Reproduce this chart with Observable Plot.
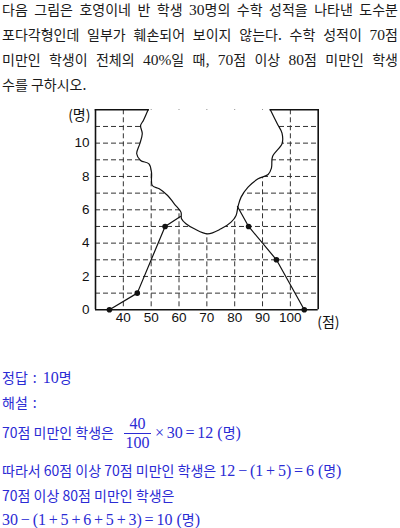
<!DOCTYPE html>
<html><head><meta charset="utf-8">
<script src="https://cdn.jsdelivr.net/npm/d3@7"></script>
<script src="https://cdn.jsdelivr.net/npm/@observablehq/plot@0.6"></script>
<style>
body{margin:0;background:#fff;width:400px;height:528px;position:relative;overflow:hidden;font-family:"Noto Sans CJK KR",sans-serif;}
.q{position:absolute;left:2px;width:396px;font-size:14px;color:#1a1a1a;height:24px;line-height:24px;white-space:nowrap}
.j{text-align:justify;text-align-last:justify;}
.n{font-family:"Liberation Serif",serif;font-size:15.5px}
.a{position:absolute;left:2px;color:#2b2bd4;font-size:14px;height:20px;line-height:20px;white-space:nowrap}
.m{font-family:"Liberation Serif",serif;font-size:16px}
.op{margin:0 2.8px}
.c{margin:0 6px 0 5px}
.frac{display:inline-block;vertical-align:middle;text-align:center;line-height:18px;margin:0 1px 0 7px;position:relative;top:-1px}
.frac span{display:block;padding:0 1.5px}
.frac .num{border-bottom:1px solid #2b2bd4}
#chart{position:absolute;left:0;top:100px;z-index:2}
</style></head>
<body>
<div class="q j" style="top:-3px">다음 그림은 호영이네 반 학생 <span class="n">30</span>명의 수학 성적을 나타낸 도수분</div>
<div class="q j" style="top:22px">포다각형인데 일부가 훼손되어 보이지 않는다. 수학 성적이 <span class="n">70</span>점</div>
<div class="q j" style="top:47px">미만인 학생이 전체의 <span class="n">40%</span>일 때, <span class="n">70</span>점 이상 <span class="n">80</span>점 미만인 학생</div>
<div class="q" style="top:72px">수를 구하시오.</div>
<div id="chart"></div>
<div class="a" style="top:367px">정답<span class="c">:</span><span class="m">10</span>명</div>
<div class="a" style="top:392px">해설<span class="c">:</span></div>
<div class="a" style="top:416px;height:auto">70점 미만인 학생은 <span class="frac m"><span class="num">40</span><span>100</span></span><span class="m"><span class="op">×</span>30<span class="op">=</span>12 (</span>명<span class="m">)</span></div>
<div class="a" style="top:460px">따라서 60점 이상 70점 미만인 학생은 <span class="m">12<span class="op">−</span>(1<span class="op">+</span>5)<span class="op">=</span>6 (</span>명<span class="m">)</span></div>
<div class="a" style="top:485px">70점 이상 80점 미만인 학생은</div>
<div class="a" style="top:509px"><span class="m">30<span class="op">−</span>(1<span class="op">+</span>5<span class="op">+</span>6<span class="op">+</span>5<span class="op">+</span>3)<span class="op">=</span>10 (</span>명<span class="m">)</span></div>
<script>
// class midpoints and frequencies (visible points)
const classMids = [35, 45, 55, 85, 95, 105];
const freqs = [0, 1, 5, 5, 3, 0];
// visible polygon segments (ending at the torn edge)
const leftLineX = [35, 45, 55, 60.5];
const leftLineY = [0, 1, 5, 5.6];
const rightLineX = [81, 85, 95, 105];
const rightLineY = [6.2, 5, 3, 0];
// torn edge outline
const tearX = [48.9, 47.2, 46.2, 46.8, 45.9, 44.8, 46.2, 49.2, 50.1, 50.4, 52.9, 55.9, 58.3, 60.7, 60.9, 62.5, 65.5, 70.3, 75.1, 78.7, 80.5, 81.2, 82.3, 84.8, 88.4, 92.0, 93.2, 93.6, 97.0, 97.0, 95.3, 92.8];
const tearY = [12, 11.36, 11.06, 10.56, 9.96, 9.36, 8.96, 8.76, 8.26, 7.46, 7.26, 6.86, 6.36, 5.86, 5.46, 5.16, 4.86, 4.56, 4.86, 5.26, 5.66, 6.2, 6.76, 7.36, 7.86, 8.12, 8.5, 9.2, 9.96, 10.6, 11.16, 12];
// axes
const xDomain = [30, 110];
const yDomain = [0, 12];
const xTicks = [40, 50, 60, 70, 80, 90, 100];
const yTicks = [0, 2, 4, 6, 8, 10];
const gridY = [1, 2, 3, 4, 5, 6, 7, 8, 9, 10, 11];
const xUnit = "(점)";
const yUnit = "(명)";

const pts = classMids.map((x, i) => ({x, y: freqs[i]}));
const leftLine = leftLineX.map((x, i) => ({x, y: leftLineY[i]}));
const rightLine = rightLineX.map((x, i) => ({x, y: rightLineY[i]}));
const tear = tearX.map((x, i) => ({x, y: tearY[i]}));
const topLeft = [{x: xDomain[0], y: yDomain[1]}, {x: tear[0].x, y: yDomain[1]}];
const topRight = [{x: tear[tear.length - 1].x, y: yDomain[1]}, {x: xDomain[1], y: yDomain[1]}];
const ink = "#111";
const dash = {stroke: "#333", strokeWidth: 1, strokeDasharray: "5,3"};
const edge = {x: "x", y: "y", stroke: ink, strokeWidth: 1.6, strokeLinecap: "square"};

const chart = Plot.plot({
  width: 400, height: 240,
  marginLeft: 95, marginRight: 82.3, marginTop: 9.3, marginBottom: 30.7,
  x: {domain: xDomain, label: null},
  y: {domain: yDomain, label: null},
  style: {fontFamily: "'Liberation Sans', Arial, sans-serif", fontSize: "13.5px", color: ink, background: "white"},
  marks: [
    Plot.ruleY(gridY, dash),
    Plot.ruleX(xTicks, dash),
    Plot.line(tear, {x: "x", y: "y", fill: "white", stroke: "none", curve: "catmull-rom"}),
    Plot.line(tear, {x: "x", y: "y", stroke: ink, strokeWidth: 1.2, curve: "catmull-rom"}),
    Plot.ruleX(xDomain, {stroke: ink, strokeWidth: 1.6}),
    Plot.ruleY([yDomain[0]], {stroke: ink, strokeWidth: 1.6}),
    Plot.line(topLeft, edge),
    Plot.line(topRight, edge),
    Plot.line(leftLine, {x: "x", y: "y", stroke: ink, strokeWidth: 1.2}),
    Plot.line(rightLine, {x: "x", y: "y", stroke: ink, strokeWidth: 1.2}),
    Plot.dot(pts, {x: "x", y: "y", r: 2.8, fill: ink, stroke: "none"}),
    Plot.axisY({ticks: yTicks, tickSize: 0, tickPadding: 6, label: null}),
    Plot.axisX({ticks: xTicks, tickSize: 0, tickPadding: 3, label: null}),
    Plot.text([yUnit], {x: () => xDomain[0], y: () => yDomain[1], text: d => d, textAnchor: "end", dx: -5, dy: 6, fontSize: 14, fontFamily: "'Noto Sans CJK KR', sans-serif"}),
    Plot.text([xUnit], {x: () => xDomain[1], y: () => yDomain[0], text: d => d, textAnchor: "start", dx: -1, dy: 13, fontSize: 14, fontFamily: "'Noto Sans CJK KR', sans-serif"})
  ]
});
document.getElementById("chart").append(chart);
</script>
</body></html>
